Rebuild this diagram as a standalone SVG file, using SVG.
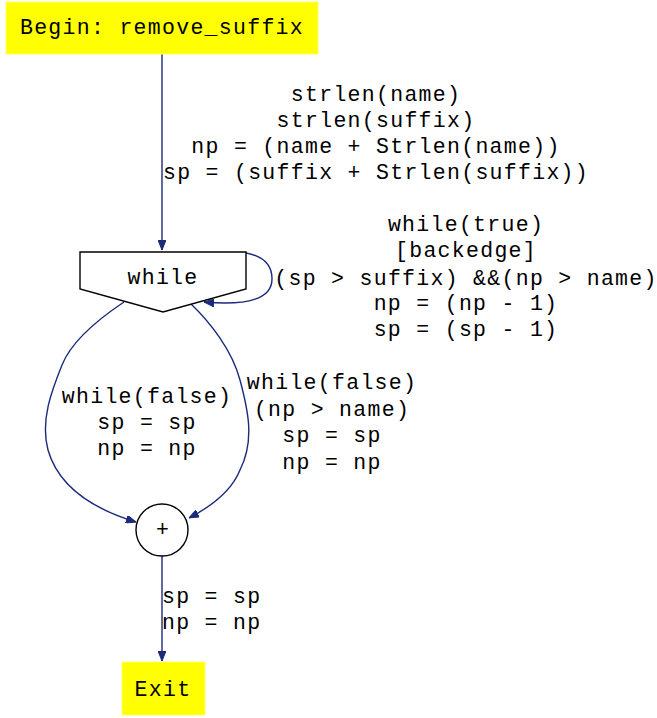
<svg xmlns="http://www.w3.org/2000/svg" width="657" height="718" viewBox="0 0 657 718">
<style>
text{font-family:"Liberation Mono","Courier New",monospace;font-size:21.5px;letter-spacing:1.3px;fill:#000;text-anchor:middle}
.l{text-anchor:start}
.e{fill:none;stroke:#1b2a7a;stroke-width:1.4}
.n{fill:#fff;stroke:#000;stroke-width:1.4}
.y{fill:#ffff00;stroke:#ffff66;stroke-width:1}
</style>
<defs>
<marker id="a" viewBox="0 0 10 8" refX="10" refY="4" markerWidth="10" markerHeight="8" markerUnits="userSpaceOnUse" orient="auto">
<path d="M0,0 L10,4 L0,8 Z" fill="#1b2a7a" stroke="#1b2a7a" stroke-width="1"/>
</marker>
</defs>
<rect width="657" height="718" fill="#fff"/>
<g id="edges">
<path class="e" d="M162,54 L162,250" marker-end="url(#a)"/>
<path class="e" d="M246,253 C262,256 272,264 272,279 C272,298 250,306 204,302" marker-end="url(#a)"/>
<path class="e" d="M124,302 C100,318 72,340 62,365 C52,390 40,420 48,450 C56,478 80,505 136,522" marker-end="url(#a)"/>
<path class="e" d="M190,303 C210,322 232,350 240,380 C248,410 255,440 240,470 C232,490 214,505 189,518" marker-end="url(#a)"/>
<path class="e" d="M162,556 L162,661" marker-end="url(#a)"/>
<text x="376" y="101">strlen(name)</text>
<text x="376" y="127">strlen(suffix)</text>
<text x="376" y="153">np = (name + Strlen(name))</text>
<text x="376" y="179">sp = (suffix + Strlen(suffix))</text>
<text x="466" y="231">while(true)</text>
<text x="466" y="257">[backedge]</text>
<text x="466" y="285">(sp &gt; suffix) &amp;&amp;(np &gt; name)</text>
<text x="466" y="310">np = (np - 1)</text>
<text x="466" y="336">sp = (sp - 1)</text>
<text x="147" y="403">while(false)</text>
<text x="147" y="429">sp = sp</text>
<text x="147" y="455">np = np</text>
<text x="332" y="389">while(false)</text>
<text x="332" y="416">(np &gt; name)</text>
<text x="332" y="442">sp = sp</text>
<text x="332" y="469">np = np</text>
<text class="l" x="162" y="603">sp = sp</text>
<text class="l" x="162" y="629">np = np</text>
</g>
<g id="begin">
<rect class="y" x="6" y="2" width="312" height="52"/>
<text x="162" y="34">Begin: remove_suffix</text>
</g>
<g id="while">
<polygon class="n" points="80,252 246,252 246,289 163,312 80,289"/>
<text x="163" y="284">while</text>
</g>
<g id="join">
<circle class="n" cx="162" cy="530" r="26"/>
<text x="163" y="536">+</text>
</g>
<g id="exit">
<rect class="y" x="122" y="662" width="83" height="53"/>
<text x="163" y="696">Exit</text>
</g>
</svg>
